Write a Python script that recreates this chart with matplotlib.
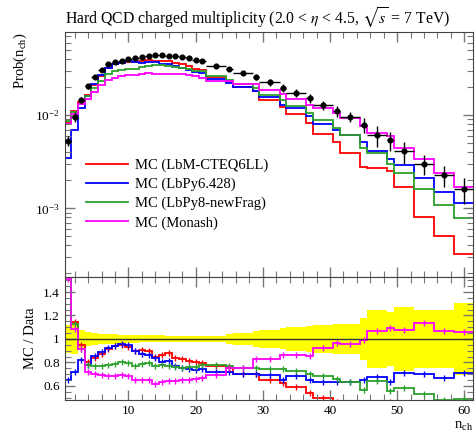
"""Hard QCD charged multiplicity: data vs MC tunes with ratio panel."""

import matplotlib

matplotlib.use("Agg")
import matplotlib.pyplot as plt
import numpy as np
from matplotlib.ticker import FixedLocator, FuncFormatter, LogLocator, NullFormatter

# bin edges in n_ch (unit bins, then alternating 3/1 wide, then 3 wide)
edges = [0.5, 1.5, 2.5, 3.5, 4.5, 5.5, 6.5, 7.5, 8.5, 9.5, 10.5, 11.5, 12.5,
         13.5, 14.5, 15.5, 16.5, 17.5, 18.5, 19.5, 20.5, 21.5, 24.5, 25.5,
         28.5, 29.5, 32.5, 33.5, 36.5, 37.5, 40.5, 41.5, 44.5, 45.5, 48.5,
         49.5, 52.5, 55.5, 58.5, 61.5]

data = [0.0053, 0.0096, 0.0145, 0.0205, 0.0254, 0.0305, 0.0350, 0.0372,
        0.0382, 0.0397, 0.0410, 0.0420, 0.0430, 0.0447, 0.0440, 0.0435,
        0.0432, 0.0422, 0.0411, 0.0395, 0.0378, 0.0337, 0.0311, 0.0286,
        0.0258, 0.0224, 0.0196, 0.0173, 0.0151, 0.0128, 0.0110, 0.0096,
        0.0078, 0.0061, 0.0054, 0.0041, 0.0030, 0.00225, 0.0016]
data_relerr = [0.12, 0.13, 0.08, 0.06, 0.05, 0.045, 0.04, 0.04, 0.035, 0.035,
               0.033, 0.03, 0.03, 0.03, 0.03, 0.028, 0.026, 0.025, 0.024,
               0.023, 0.022, 0.022, 0.04, 0.05, 0.07, 0.08, 0.09, 0.10, 0.11,
               0.12, 0.13, 0.13, 0.18, 0.25, 0.23, 0.27, 0.25, 0.25, 0.31]

mc_lbm = [0.0083, 0.0110, 0.0138, 0.0164, 0.0213, 0.0265, 0.0319, 0.0350,
          0.0363, 0.0369, 0.0369, 0.0382, 0.0387, 0.0380, 0.0378, 0.0383,
          0.0363, 0.0350, 0.0333, 0.0316, 0.0302, 0.0259, 0.0233, 0.0200,
          0.0181, 0.0146, 0.0123, 0.0102, 0.0082, 0.0063, 0.0051, 0.0039,
          0.0028, 0.0027, 0.0025, 0.0017, 0.00081, 0.00050, 0.00032]
mc_py6 = [0.00344, 0.0069, 0.0119, 0.0160, 0.0218, 0.0271, 0.0322, 0.0350,
          0.0365, 0.0377, 0.0369, 0.0365, 0.0370, 0.0375, 0.0352, 0.0352,
          0.0333, 0.0317, 0.0304, 0.0292, 0.0280, 0.0243, 0.0222, 0.0200,
          0.0181, 0.0155, 0.0127, 0.0118, 0.0098, 0.0081, 0.0070, 0.0061,
          0.0051, 0.0041, 0.0034, 0.0029, 0.0021, 0.0015, 0.00114]
mc_py8 = [0.0087, 0.0108, 0.0132, 0.0160, 0.0196, 0.0235, 0.0273, 0.0294,
          0.0306, 0.0314, 0.0316, 0.0332, 0.0340, 0.0344, 0.0343, 0.0335,
          0.0328, 0.0317, 0.0312, 0.0300, 0.0295, 0.0263, 0.0239, 0.0215,
          0.0194, 0.0166, 0.0145, 0.0126, 0.0106, 0.0088, 0.0072, 0.0061,
          0.0044, 0.0039, 0.0030, 0.0024, 0.0016, 0.00108, 0.00078]
mc_monash = [0.0080, 0.0104, 0.0133, 0.0148, 0.0178, 0.0210, 0.0238, 0.0253,
             0.0264, 0.0270, 0.0267, 0.0273, 0.0280, 0.0277, 0.0277, 0.0278,
             0.0276, 0.0274, 0.0267, 0.0261, 0.0253, 0.0233, 0.0233, 0.0215,
             0.0214, 0.0186, 0.0169, 0.0149, 0.0129, 0.0118, 0.0106, 0.0092,
             0.0077, 0.0065, 0.0059, 0.0044, 0.0034, 0.0024, 0.0017]

mc_labels = ["MC (LbM-CTEQ6LL)", "MC (LbPy6.428)", "MC (LbPy8-newFrag)", "MC (Monash)"]
mc_colors = ["#ff0000", "#0000ff", "#2ca02c", "#ff00ff"]


def style_axis(ax):
    ax.tick_params(which="both", direction="in", top=True, right=True,
                   color="#777777", labelsize=9.5)
    ax.tick_params(which="major", length=7, width=1.0)
    ax.tick_params(which="minor", length=4, width=0.8)
    for spine in ax.spines.values():
        spine.set_color("#444444")


def main():
    plt.rcParams["font.family"] = ["Liberation Serif", "DejaVu Serif"]
    plt.rcParams["mathtext.fontset"] = "stix"

    edges_a = np.array(edges)
    centers = 0.5 * (edges_a[1:] + edges_a[:-1])
    half_w = 0.5 * (edges_a[1:] - edges_a[:-1])
    d = np.array(data)
    derr = d * np.array(data_relerr)
    mcs = [np.array(m) for m in (mc_lbm, mc_py6, mc_py8, mc_monash)]

    fig = plt.figure(figsize=(4.75, 4.38), dpi=100)
    ax = fig.add_axes([0.136, 0.368, 0.860, 0.559])
    axr = fig.add_axes([0.136, 0.087, 0.860, 0.281], sharex=ax)

    for m, lab, col in zip(mcs, mc_labels, mc_colors):
        ax.stairs(m, edges_a, baseline=None, color=col, lw=1.3, label=lab)
    ax.errorbar(centers, d, yerr=derr, xerr=half_w, fmt="o", color="black",
                ms=3.4, elinewidth=1.0, capsize=0, zorder=5)

    ax.set_yscale("log")
    ax.set_xlim(0.5, 61.3)
    ax.set_ylim(1.84e-4, 0.078)
    ax.yaxis.set_major_locator(LogLocator(base=10))
    ax.yaxis.set_minor_locator(LogLocator(base=10, subs=np.arange(2, 10)))
    ax.yaxis.set_minor_formatter(NullFormatter())
    ax.xaxis.set_major_locator(FixedLocator([10, 20, 30, 40, 50, 60]))
    ax.xaxis.set_minor_locator(FixedLocator(np.arange(2, 62, 2)))
    ax.tick_params(labelbottom=False)
    style_axis(ax)
    ax.set_ylabel(r"Prob(n$_{\mathregular{ch}}$)", loc="top", fontsize=10.5)
    ax.set_title(r"Hard QCD charged multiplicity (2.0 < $\eta$ < 4.5, $\sqrt{s}$ = 7 TeV)",
                 loc="left", fontsize=11.3, pad=6)
    ax.legend(loc="upper left", bbox_to_anchor=(0.02, 0.535), frameon=False,
              fontsize=10.5, handlelength=2.9, labelspacing=0.38, handletextpad=0.5)

    # ratio panel
    rel = np.array(data_relerr)
    axr.stairs(1 + rel, edges_a, baseline=1 - rel, fill=True, color="#ffff00", lw=0)
    axr.axhline(1.0, color="#333333", lw=1.0)
    for m, col in zip(mcs, mc_colors):
        r = m / d
        axr.stairs(r, edges_a, baseline=None, color=col, lw=1.3)
        axr.plot(centers, r, ls="none", marker="|", ms=4, color=col, mew=1.0)
    axr.set_ylim(0.48, 1.53)
    axr.yaxis.set_major_locator(FixedLocator([0.6, 0.8, 1.0, 1.2, 1.4]))
    axr.yaxis.set_minor_locator(FixedLocator(np.arange(0.5, 1.55, 0.05)))
    axr.yaxis.set_major_formatter(FuncFormatter(lambda v, _: f"{v:g}"))
    style_axis(axr)
    axr.set_ylabel("MC / Data", fontsize=10.5)
    axr.set_xlabel(r"n$_{\mathregular{ch}}$", loc="right", fontsize=10.5, labelpad=2)

    fig.savefig("out.png", dpi=100)
    plt.close(fig)


if __name__ == "__main__":
    main()
